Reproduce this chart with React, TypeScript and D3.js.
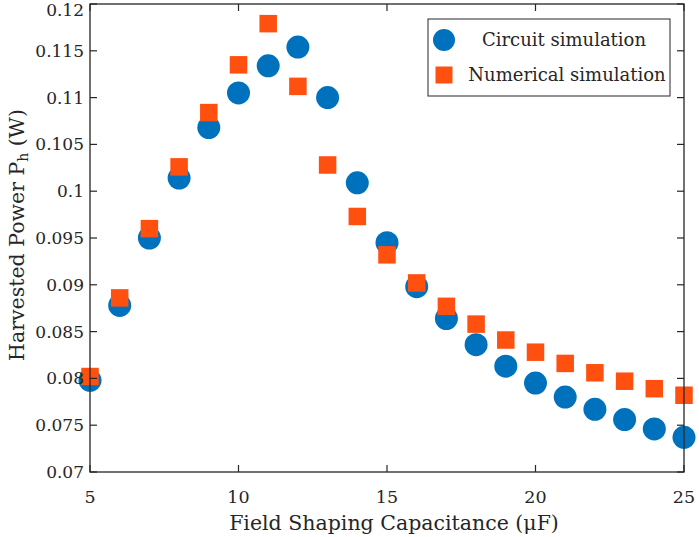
import { scaleLinear, range } from "d3";

const capacitance = [5, 6, 7, 8, 9, 10, 11, 12, 13, 14, 15, 16, 17, 18, 19, 20, 21, 22, 23, 24, 25];
const circuitPower = [
  0.0798, 0.0878, 0.095, 0.1014, 0.1068, 0.1105, 0.1134, 0.1154, 0.11, 0.1009, 0.0945,
  0.0898, 0.0864, 0.0836, 0.0813, 0.0795, 0.078, 0.0767, 0.0756, 0.0746, 0.0737,
];
const numericalPower = [
  0.0802, 0.0886, 0.096, 0.1026, 0.1084, 0.1135, 0.1179, 0.1112, 0.1028, 0.0973, 0.0932,
  0.0902, 0.0877, 0.0858, 0.0841, 0.0828, 0.0816, 0.0806, 0.0797, 0.0789, 0.0782,
];
const xTicks = [5, 10, 15, 20, 25];
const yTickLabels = ["0.07", "0.075", "0.08", "0.085", "0.09", "0.095", "0.1", "0.105", "0.11", "0.115", "0.12"];

const W = 699;
const H = 537;
const left = 90;
const right = 684;
const top = 4;
const bottom = 472;

const blue = "#0072BD";
const orange = "#FF5010";
const ink = "#262626";
const font = "'DejaVu Serif', serif";

const App = () => {
  const x = scaleLinear().domain([5, 25]).range([left, right]);
  const y = scaleLinear().domain([0.07, 0.12]).range([bottom, top]);
  const yTicks = range(0, 11).map((i) => 0.07 + i * 0.005);
  const sq = 17.5;
  const tick = 7;

  return (
    <svg width={W} height={H} style={{ position: "absolute", left: 0, top: 0, background: "#fff" }}>
      {/* points */}
      {capacitance.map((c, i) => (
        <circle key={"c" + c} cx={x(c)} cy={y(circuitPower[i])} r={11.5} fill={blue} />
      ))}
      {capacitance.map((c, i) => (
        <rect
          key={"n" + c}
          x={x(c) - sq / 2}
          y={y(numericalPower[i]) - sq / 2}
          width={sq}
          height={sq}
          fill={orange}
        />
      ))}

      {/* box and ticks */}
      <rect x={left} y={top} width={right - left} height={bottom - top} fill="none" stroke={ink} strokeWidth={1.3} />
      {xTicks.map((t) => (
        <g key={"x" + t}>
          <line x1={x(t)} x2={x(t)} y1={bottom} y2={bottom - tick} stroke={ink} strokeWidth={1.2} />
          <line x1={x(t)} x2={x(t)} y1={top} y2={top + tick} stroke={ink} strokeWidth={1.2} />
          <text x={x(t)} y={503} textAnchor="middle" fontFamily={font} fontSize={17.5} fill={ink}>
            {t}
          </text>
        </g>
      ))}
      {yTicks.map((t, i) => (
        <g key={"y" + i}>
          <line x1={left} x2={left + tick} y1={y(t)} y2={y(t)} stroke={ink} strokeWidth={1.2} />
          <line x1={right} x2={right - tick} y1={y(t)} y2={y(t)} stroke={ink} strokeWidth={1.2} />
          <text x={84} y={Math.max(y(t) + 6, 16)} textAnchor="end" fontFamily={font} fontSize={17} fill={ink}>
            {yTickLabels[i]}
          </text>
        </g>
      ))}

      {/* axis labels */}
      <text x={394} y={530} textAnchor="middle" fontFamily={font} fontSize={20.5} fill={ink}>
        Field Shaping Capacitance (μF)
      </text>
      <text
        transform={`translate(24, 235) rotate(-90)`}
        textAnchor="middle"
        fontFamily={font}
        fontSize={20.5}
        fill={ink}
      >
        Harvested Power P<tspan fontSize={14} dy={4}>h</tspan>
        <tspan dy={-4}> (W)</tspan>
      </text>

      {/* legend */}
      <rect x={428} y={19} width={242} height={77} fill="#fff" stroke={ink} strokeWidth={1} />
      <circle cx={444} cy={40} r={11} fill={blue} />
      <rect x={444 - 8.5} y={75 - 8.5} width={17} height={17} fill={orange} />
      <text x={564} y={46} textAnchor="middle" fontFamily={font} fontSize={18} fill={ink}>
        Circuit simulation
      </text>
      <text x={567} y={81} textAnchor="middle" fontFamily={font} fontSize={18} fill={ink}>
        Numerical simulation
      </text>
    </svg>
  );
};

export default App;
